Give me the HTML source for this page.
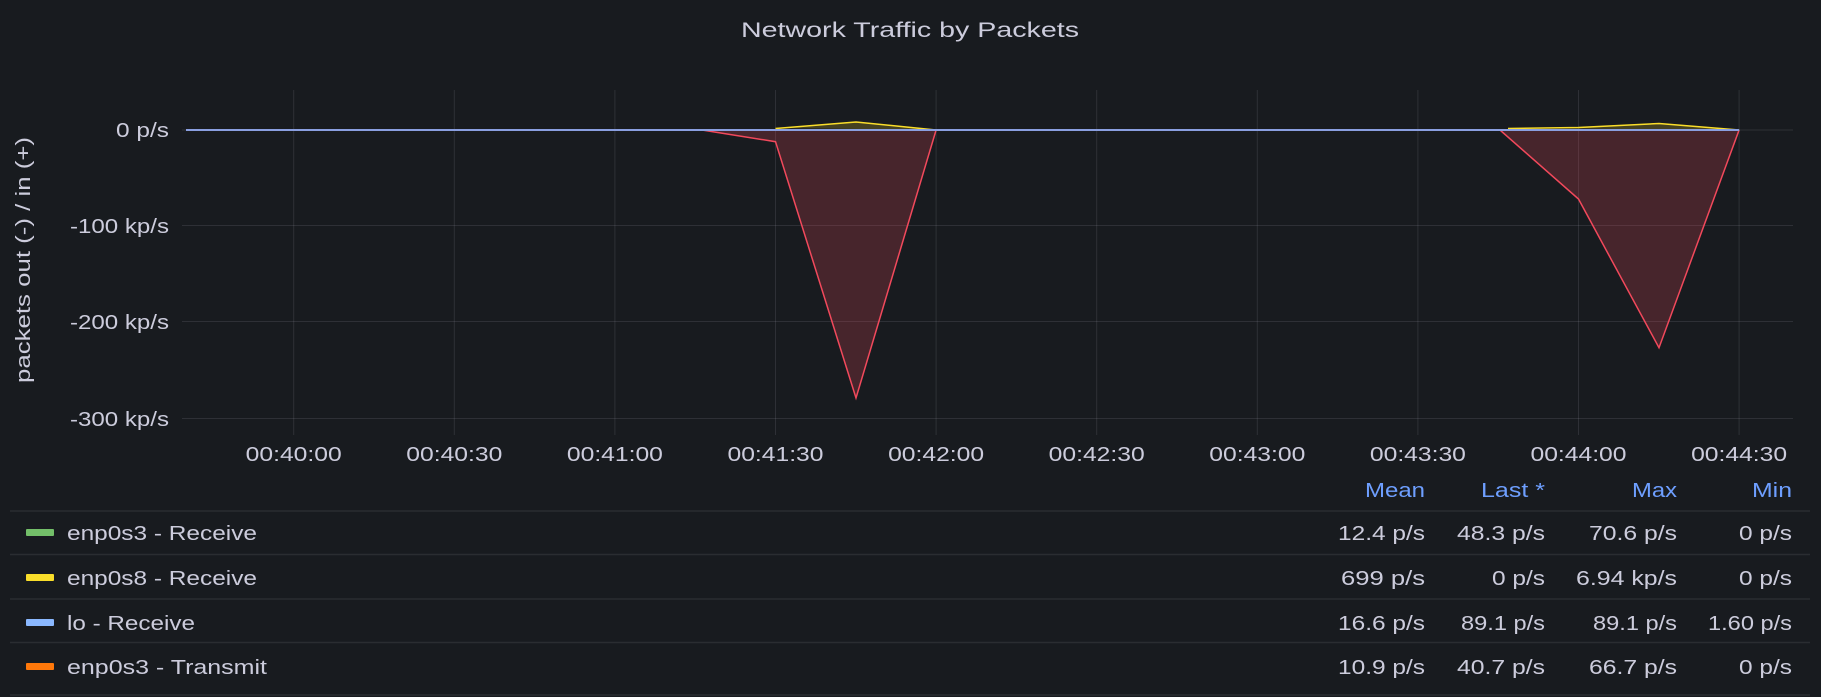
<!DOCTYPE html>
<html><head><meta charset="utf-8"><style>
html,body{margin:0;padding:0;background:#181b1f;}
body{width:1821px;height:697px;overflow:hidden;}
svg{display:block;font-family:"Liberation Sans",sans-serif;}
</style></head><body>
<svg width="1821" height="697" viewBox="0 0 1821 697" xmlns="http://www.w3.org/2000/svg">
<rect width="1821" height="697" fill="#181b1f"/>
<text x="910" y="37" text-anchor="middle" font-size="21" fill="#ccccdc" textLength="338" lengthAdjust="spacingAndGlyphs">Network Traffic by Packets</text>
<g stroke="rgba(204,204,220,0.12)" stroke-width="1">
<line x1="182" y1="130" x2="1793" y2="130"/>
<line x1="182" y1="225.5" x2="1793" y2="225.5"/>
<line x1="182" y1="321.5" x2="1793" y2="321.5"/>
<line x1="182" y1="418.5" x2="1793" y2="418.5"/>
<line x1="293.7" y1="90" x2="293.7" y2="435"/>
<line x1="454.3" y1="90" x2="454.3" y2="435"/>
<line x1="614.9" y1="90" x2="614.9" y2="435"/>
<line x1="775.5" y1="90" x2="775.5" y2="435"/>
<line x1="936.1" y1="90" x2="936.1" y2="435"/>
<line x1="1096.7" y1="90" x2="1096.7" y2="435"/>
<line x1="1257.3" y1="90" x2="1257.3" y2="435"/>
<line x1="1417.9" y1="90" x2="1417.9" y2="435"/>
<line x1="1578.5" y1="90" x2="1578.5" y2="435"/>
<line x1="1739.1" y1="90" x2="1739.1" y2="435"/>
</g>
<g font-size="20" fill="#ccccdc" text-anchor="end" lengthAdjust="spacingAndGlyphs">
<text x="169" y="137" textLength="53" lengthAdjust="spacingAndGlyphs">0 p/s</text>
<text x="169" y="233" textLength="99" lengthAdjust="spacingAndGlyphs">-100 kp/s</text>
<text x="169" y="329" textLength="99" lengthAdjust="spacingAndGlyphs">-200 kp/s</text>
<text x="169" y="426" textLength="99" lengthAdjust="spacingAndGlyphs">-300 kp/s</text>
</g>
<text transform="translate(30,260) rotate(-90)" text-anchor="middle" font-size="20" fill="#ccccdc" textLength="246" lengthAdjust="spacingAndGlyphs">packets out (-) / in (+)</text>
<g font-size="20" fill="#ccccdc" text-anchor="middle">
<text x="293.7" y="461" textLength="96" lengthAdjust="spacingAndGlyphs">00:40:00</text>
<text x="454.3" y="461" textLength="96" lengthAdjust="spacingAndGlyphs">00:40:30</text>
<text x="614.9" y="461" textLength="96" lengthAdjust="spacingAndGlyphs">00:41:00</text>
<text x="775.5" y="461" textLength="96" lengthAdjust="spacingAndGlyphs">00:41:30</text>
<text x="936.1" y="461" textLength="96" lengthAdjust="spacingAndGlyphs">00:42:00</text>
<text x="1096.7" y="461" textLength="96" lengthAdjust="spacingAndGlyphs">00:42:30</text>
<text x="1257.3" y="461" textLength="96" lengthAdjust="spacingAndGlyphs">00:43:00</text>
<text x="1417.9" y="461" textLength="96" lengthAdjust="spacingAndGlyphs">00:43:30</text>
<text x="1578.5" y="461" textLength="96" lengthAdjust="spacingAndGlyphs">00:44:00</text>
<text x="1739.1" y="461" textLength="96" lengthAdjust="spacingAndGlyphs">00:44:30</text>
</g>
<polygon points="702,130 775.5,141.7 856,398 936.1,130" fill="rgba(242,73,92,0.22)"/>
<polyline points="186,130 702,130 775.5,141.7 856,398 936.1,130 1500,130 1578.5,199 1659,347.7 1739.1,130" fill="none" stroke="#f2495c" stroke-width="1.5"/>
<polygon points="1500,130 1578.5,199 1659,347.7 1739.1,130" fill="rgba(242,73,92,0.22)"/>
<polygon points="775.5,128 856,122 936.1,130" fill="rgba(250,222,42,0.2)"/>
<polygon points="1508,128 1578.5,127.5 1659,123.5 1739.1,130" fill="rgba(250,222,42,0.2)"/>
<polyline points="775.5,128.5 856,122 936.1,130" fill="none" stroke="#fade2a" stroke-width="1.5"/>
<polyline points="1508,128.5 1578.5,127.5 1659,123.5 1739.1,130" fill="none" stroke="#fade2a" stroke-width="1.5"/>
<line x1="186" y1="130" x2="1739.1" y2="130" stroke="#8a9fe0" stroke-width="2"/>
<g font-size="20" fill="#6e9fff" text-anchor="end">
<text x="1425" y="497" textLength="60" lengthAdjust="spacingAndGlyphs">Mean</text>
<text x="1545" y="497" textLength="64" lengthAdjust="spacingAndGlyphs">Last *</text>
<text x="1677" y="497" textLength="45" lengthAdjust="spacingAndGlyphs">Max</text>
<text x="1792" y="497" textLength="40" lengthAdjust="spacingAndGlyphs">Min</text>
</g>
<g stroke="rgba(204,204,220,0.1)" stroke-width="1.5">
<line x1="10" y1="511" x2="1810" y2="511"/>
<line x1="10" y1="554.5" x2="1810" y2="554.5"/>
<line x1="10" y1="599" x2="1810" y2="599"/>
<line x1="10" y1="642.5" x2="1810" y2="642.5"/>
<line x1="10" y1="695" x2="1810" y2="695"/>
</g>
<rect x="26" y="529" width="28" height="7" rx="1" fill="#73bf69"/>
<rect x="26" y="574" width="28" height="7" rx="1" fill="#fade2a"/>
<rect x="26" y="619" width="28" height="7" rx="1" fill="#8ab8ff"/>
<rect x="26" y="663" width="28" height="7" rx="1" fill="#ff780a"/>
<g font-size="20" fill="#ccccdc">
<text x="67" y="540" textLength="190" lengthAdjust="spacingAndGlyphs">enp0s3 - Receive</text>
<text x="67" y="585" textLength="190" lengthAdjust="spacingAndGlyphs">enp0s8 - Receive</text>
<text x="67" y="630" textLength="128" lengthAdjust="spacingAndGlyphs">lo - Receive</text>
<text x="67" y="674" textLength="200" lengthAdjust="spacingAndGlyphs">enp0s3 - Transmit</text>
</g>
<g font-size="20" fill="#ccccdc" text-anchor="end">
<text x="1425" y="540" textLength="87" lengthAdjust="spacingAndGlyphs">12.4 p/s</text><text x="1545" y="540" textLength="88" lengthAdjust="spacingAndGlyphs">48.3 p/s</text><text x="1677" y="540" textLength="88" lengthAdjust="spacingAndGlyphs">70.6 p/s</text><text x="1792" y="540" textLength="53" lengthAdjust="spacingAndGlyphs">0 p/s</text>
<text x="1425" y="585" textLength="84" lengthAdjust="spacingAndGlyphs">699 p/s</text><text x="1545" y="585" textLength="53" lengthAdjust="spacingAndGlyphs">0 p/s</text><text x="1677" y="585" textLength="101" lengthAdjust="spacingAndGlyphs">6.94 kp/s</text><text x="1792" y="585" textLength="53" lengthAdjust="spacingAndGlyphs">0 p/s</text>
<text x="1425" y="630" textLength="87" lengthAdjust="spacingAndGlyphs">16.6 p/s</text><text x="1545" y="630" textLength="84" lengthAdjust="spacingAndGlyphs">89.1 p/s</text><text x="1677" y="630" textLength="84" lengthAdjust="spacingAndGlyphs">89.1 p/s</text><text x="1792" y="630" textLength="84" lengthAdjust="spacingAndGlyphs">1.60 p/s</text>
<text x="1425" y="674" textLength="87" lengthAdjust="spacingAndGlyphs">10.9 p/s</text><text x="1545" y="674" textLength="88" lengthAdjust="spacingAndGlyphs">40.7 p/s</text><text x="1677" y="674" textLength="88" lengthAdjust="spacingAndGlyphs">66.7 p/s</text><text x="1792" y="674" textLength="53" lengthAdjust="spacingAndGlyphs">0 p/s</text>
</g>
</svg>
</body></html>
